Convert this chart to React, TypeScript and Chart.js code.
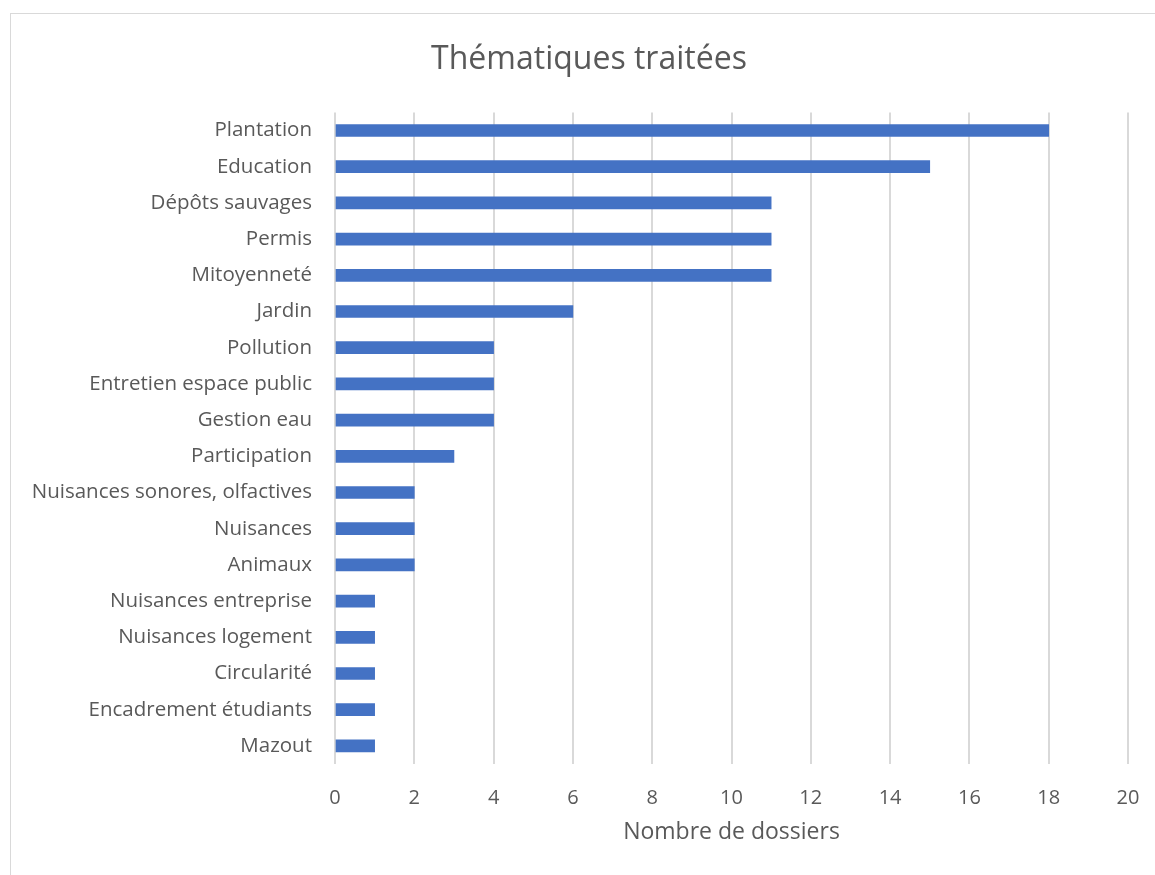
import React, { useEffect, useRef } from "react";
import { Chart, registerables } from "chart.js";

Chart.register(...registerables);

const categories = [
  "Plantation",
  "Education",
  "Dépôts sauvages",
  "Permis",
  "Mitoyenneté",
  "Jardin",
  "Pollution",
  "Entretien espace public",
  "Gestion eau",
  "Participation",
  "Nuisances sonores, olfactives",
  "Nuisances",
  "Animaux",
  "Nuisances entreprise",
  "Nuisances logement",
  "Circularité",
  "Encadrement étudiants",
  "Mazout",
];
const dossiers = [18, 15, 11, 11, 11, 6, 4, 4, 4, 3, 2, 2, 2, 1, 1, 1, 1, 1];
const chartTitle = "Thématiques traitées";
const xAxisTitle = "Nombre de dossiers";

const FONT = "'Open Sans', 'Noto Sans', sans-serif";
const TEXT = "#595959";

export default function App() {
  const ref = useRef<HTMLCanvasElement | null>(null);
  useEffect(() => {
    if (!ref.current) return;
    const chart = new Chart(ref.current, {
      type: "bar",
      data: {
        labels: categories,
        datasets: [
          {
            label: xAxisTitle,
            data: dossiers,
            backgroundColor: "#4472C4",
            barThickness: 12,
            yAxisID: "y",
          },
        ],
      },
      options: {
        indexAxis: "y",
        responsive: false,
        animation: false,
        layout: { padding: { left: 0, right: 0, top: 0, bottom: 0 } },
        plugins: {
          legend: { display: false },
          tooltip: { enabled: false },
          title: {
            display: true,
            text: chartTitle,
            color: TEXT,
            font: { family: FONT, size: 32, weight: "normal" },
            padding: { top: 27, bottom: 33 },
          },
        },
        scales: {
          x: {
            min: 0,
            max: 20,
            ticks: {
              stepSize: 2,
              color: TEXT,
              font: { family: FONT, size: 20 },
              padding: 22,
            },
            grid: { color: "#d9d9d9", lineWidth: 2, drawTicks: false },
            border: { display: false },
            title: {
              display: true,
              text: xAxisTitle,
              color: TEXT,
              font: { family: FONT, size: 23 },
              padding: { top: 0, bottom: 33 },
            },
            afterFit: (scale: any) => {
              scale.height = 115;
            },
          },
          y: {
            position: "left",
            ticks: {
              color: TEXT,
              font: { family: FONT, size: 20.5 },
              padding: 15,
            },
            grid: { display: false },
            border: { display: false },
            afterFit: (scale: any) => {
              scale.width = 324;
            },
          },
          yRightSpace: {
            type: "linear",
            axis: "y",
            position: "right",
            display: true,
            ticks: { display: false },
            grid: { display: false },
            border: { display: false },
            afterFit: (scale: any) => {
              scale.width = 39;
            },
          },
        },
      },
    });
    return () => chart.destroy();
  }, []);
  return (
    <div
      style={{
        position: "absolute",
        left: 10,
        top: 13,
        border: "1px solid #d9d9d9",
        width: 1156,
        height: 865,
        background: "#fff",
      }}
    >
      <canvas ref={ref} width={1156} height={865} style={{ display: "block" }} />
    </div>
  );
}
